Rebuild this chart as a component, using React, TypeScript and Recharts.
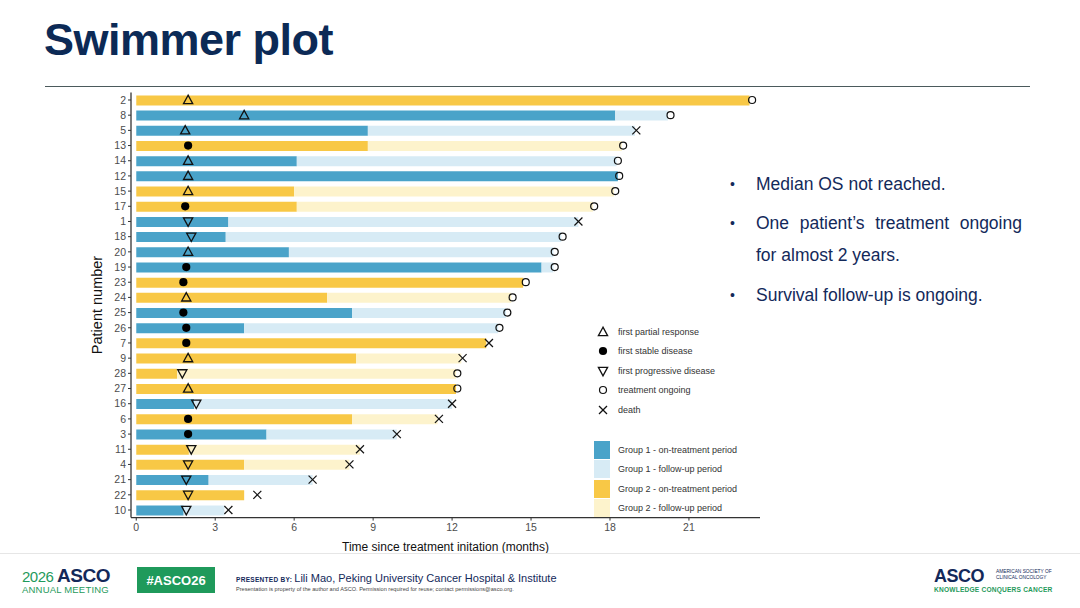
import React from 'react'
import {
  ComposedChart,
  Bar,
  Scatter,
  Cell,
  XAxis,
  YAxis,
  Label,
} from 'recharts'

// patients from top to bottom
const PATIENTS = ['2', '8', '5', '13', '14', '12', '15', '17', '1', '18', '20', '19', '23', '24', '25', '26', '7', '9', '28', '27', '16', '6', '3', '11', '4', '21', '22', '10']
const GROUP = [2, 1, 1, 2, 1, 1, 2, 2, 1, 1, 1, 1, 2, 2, 1, 1, 2, 2, 2, 2, 1, 2, 1, 2, 2, 1, 2, 1]
// end of on-treatment period (months)
const ON_TX = [23.3, 18.2, 8.8, 8.8, 6.1, 18.3, 6.0, 6.1, 3.5, 3.4, 5.8, 15.4, 14.7, 7.25, 8.2, 4.1, 13.3, 8.35, 1.55, 12.15, 2.2, 8.2, 4.95, 2.0, 4.1, 2.75, 4.1, 1.8]
// end of follow-up period (months)
const FU_END = [23.3, 20.2, 18.95, 18.45, 18.25, 18.3, 18.15, 17.35, 16.8, 16.15, 15.85, 15.85, 14.7, 14.25, 14.05, 13.75, 13.3, 12.35, 12.15, 12.15, 12.0, 11.45, 9.9, 8.5, 8.1, 6.7, 4.1, 3.35]
// time of the end marker (ongoing / death)
const END_TIME = [23.4, 20.3, 19.0, 18.5, 18.3, 18.35, 18.2, 17.4, 16.8, 16.2, 15.9, 15.9, 14.8, 14.3, 14.1, 13.8, 13.4, 12.4, 12.2, 12.2, 12.0, 11.5, 9.9, 8.5, 8.1, 6.7, 4.6, 3.5]
const END_TYPE = ['ON', 'ON', 'X', 'ON', 'ON', 'ON', 'ON', 'ON', 'X', 'ON', 'ON', 'ON', 'ON', 'ON', 'ON', 'ON', 'X', 'X', 'ON', 'ON', 'X', 'X', 'X', 'X', 'X', 'X', 'X', 'X']
// first response assessment
const RESP_TIME = [1.97, 4.1, 1.86, 1.97, 1.97, 1.97, 1.97, 1.86, 1.97, 2.09, 1.97, 1.9, 1.79, 1.9, 1.79, 1.9, 1.9, 1.97, 1.75, 1.97, 2.28, 1.97, 1.97, 2.09, 1.97, 1.9, 1.97, 1.9]
const RESP_TYPE = ['PR', 'PR', 'PR', 'SD', 'PR', 'PR', 'PR', 'SD', 'PD', 'PD', 'PR', 'SD', 'SD', 'PR', 'SD', 'SD', 'SD', 'PR', 'PD', 'PR', 'PD', 'SD', 'SD', 'PD', 'PD', 'PD', 'PD', 'PD']

const X_TICKS = [0, 3, 6, 9, 12, 15, 18, 21]

const COLORS = {
  g1On: '#4aa3c9',
  g1Fu: '#d7ebf5',
  g2On: '#f8c846',
  g2Fu: '#fdf3cc',
}

const MARKER_LEGEND = [
  { type: 'PR', label: 'first partial response' },
  { type: 'SD', label: 'first stable disease' },
  { type: 'PD', label: 'first progressive disease' },
  { type: 'ON', label: 'treatment ongoing' },
  { type: 'X', label: 'death' },
]

const BAR_LEGEND = [
  { color: COLORS.g1On, label: 'Group 1 - on-treatment period' },
  { color: COLORS.g1Fu, label: 'Group 1 - follow-up period' },
  { color: COLORS.g2On, label: 'Group 2 - on-treatment period' },
  { color: COLORS.g2Fu, label: 'Group 2 - follow-up period' },
]

const rows = PATIENTS.map((p, i) => ({
  patient: p,
  group: GROUP[i],
  onTx: ON_TX[i],
  fu: Math.max(0, FU_END[i] - ON_TX[i]),
  endTime: END_TIME[i],
  endType: END_TYPE[i],
  resp: RESP_TIME[i],
  respType: RESP_TYPE[i],
}))

const FONT = '"Liberation Sans", Arial, Helvetica, sans-serif'
const NAVY = '#13295a'

function Marker({ type, cx, cy }: { type: string; cx: number; cy: number }) {
  const s = '#111'
  if (type === 'PR')
    return <polygon points={`${cx},${cy - 4.8} ${cx - 4.6},${cy + 3.6} ${cx + 4.6},${cy + 3.6}`} fill="none" stroke={s} strokeWidth={1.3} />
  if (type === 'PD')
    return <polygon points={`${cx - 4.6},${cy - 3.6} ${cx + 4.6},${cy - 3.6} ${cx},${cy + 4.8}`} fill="none" stroke={s} strokeWidth={1.3} />
  if (type === 'SD') return <circle cx={cx} cy={cy} r={4.1} fill="#000" />
  if (type === 'ON') return <circle cx={cx} cy={cy} r={3.5} fill="none" stroke={s} strokeWidth={1.2} />
  return (
    <g stroke={s} strokeWidth={1.2}>
      <line x1={cx - 4} y1={cy - 4} x2={cx + 4} y2={cy + 4} />
      <line x1={cx - 4} y1={cy + 4} x2={cx + 4} y2={cy - 4} />
    </g>
  )
}

function Swimmer() {
  return (
    <ComposedChart
      width={780}
      height={570}
      layout="vertical"
      data={rows}
      margin={{ top: 92.4, right: 20, left: 101, bottom: 22.4 }}
    >
      <XAxis
        type="number"
        domain={[-0.2, 23.7]}
        ticks={X_TICKS}
        allowDataOverflow
        height={30}
        tickSize={3}
        tickMargin={3}
        axisLine={{ stroke: '#333', strokeWidth: 1.3 }}
        tickLine={{ stroke: '#333' }}
        tick={{ fill: '#4d4d4d', fontSize: 10.5, fontFamily: FONT }}
      >
        <Label
          value="Time since treatment initation (months)"
          position="bottom"
          offset={-5}
          style={{ fill: '#111', fontSize: 12, fontFamily: FONT }}
        />
      </XAxis>
      <YAxis
        type="category"
        dataKey="patient"
        width={30}
        tickSize={3}
        tickMargin={2}
        interval={0}
        axisLine={{ stroke: '#333', strokeWidth: 1.3 }}
        tickLine={{ stroke: '#333' }}
        tick={{ fill: '#4d4d4d', fontSize: 10.5, fontFamily: FONT }}
      >
        <Label
          value="Patient number"
          angle={-90}
          position="insideLeft"
          offset={-4}
          style={{ textAnchor: 'middle', fill: '#111', fontSize: 14.5, fontFamily: FONT }}
        />
      </YAxis>
      <Bar dataKey="onTx" stackId="s" barSize={10} isAnimationActive={false}>
        {rows.map((r) => (
          <Cell key={r.patient} fill={r.group === 1 ? COLORS.g1On : COLORS.g2On} />
        ))}
      </Bar>
      <Bar dataKey="fu" stackId="s" barSize={10} isAnimationActive={false}>
        {rows.map((r) => (
          <Cell key={r.patient} fill={r.group === 1 ? COLORS.g1Fu : COLORS.g2Fu} />
        ))}
      </Bar>
      <Scatter
        dataKey="endTime"
        isAnimationActive={false}
        shape={(p: any) => <Marker type={p.payload.endType} cx={p.cx} cy={p.cy} />}
      />
      <Scatter
        dataKey="resp"
        isAnimationActive={false}
        shape={(p: any) => <Marker type={p.payload.respType} cx={p.cx} cy={p.cy} />}
      />
    </ComposedChart>
  )
}

function Legends() {
  return (
    <>
      {MARKER_LEGEND.map((m, i) => (
        <div key={m.type} style={{ position: 'absolute', left: 595, top: 324 + i * 19.4, height: 16, display: 'flex', alignItems: 'center' }}>
          <svg width={16} height={16}>
            <Marker type={m.type} cx={8} cy={8} />
          </svg>
          <span style={{ marginLeft: 7, fontSize: 9, color: '#333', fontFamily: FONT }}>{m.label}</span>
        </div>
      ))}
      {BAR_LEGEND.map((b, i) => (
        <div key={b.label} style={{ position: 'absolute', left: 594, top: 441 + i * 19.4, height: 18, display: 'flex', alignItems: 'center' }}>
          <div style={{ width: 16, height: 18, background: b.color }} />
          <span style={{ marginLeft: 8, fontSize: 9, color: '#333', fontFamily: FONT }}>{b.label}</span>
        </div>
      ))}
    </>
  )
}

function Bullets() {
  const line = { position: 'absolute' as const, left: 756, fontSize: 17.5, color: NAVY, fontFamily: FONT, lineHeight: '20px' }
  const dot = { position: 'absolute' as const, left: 730, fontSize: 14, color: NAVY, fontFamily: FONT, lineHeight: '20px' }
  return (
    <>
      <div style={{ ...dot, top: 174 }}>•</div>
      <div style={{ ...line, top: 174 }}>Median OS not reached.</div>
      <div style={{ ...dot, top: 213 }}>•</div>
      <div style={{ ...line, top: 213, width: 266, display: 'flex', justifyContent: 'space-between' }}>
        <span>One</span>
        <span>patient’s</span>
        <span>treatment</span>
        <span>ongoing</span>
      </div>
      <div style={{ ...line, top: 245 }}>for almost 2 years.</div>
      <div style={{ ...dot, top: 285 }}>•</div>
      <div style={{ ...line, top: 285 }}>Survival follow-up is ongoing.</div>
    </>
  )
}

function Footer() {
  const green = '#1f9a5b'
  return (
    <>
      <div style={{ position: 'absolute', left: 0, top: 553, width: 1080, height: 1, background: '#e6e6e6' }} />
      <div style={{ position: 'absolute', left: 22, top: 566, fontFamily: FONT, lineHeight: 1 }}>
        <span style={{ fontSize: 15, color: green, letterSpacing: -0.5 }}>2026 </span>
        <span style={{ fontSize: 19, color: NAVY, fontWeight: 700, letterSpacing: -0.5 }}>ASCO</span>
      </div>
      <div style={{ position: 'absolute', left: 22, top: 584, fontSize: 9.5, color: green, fontFamily: FONT, letterSpacing: 0.2 }}>ANNUAL MEETING</div>
      <div style={{ position: 'absolute', left: 137, top: 567, width: 78, height: 26, background: green, color: '#fff', fontFamily: FONT, fontWeight: 700, fontSize: 13, display: 'flex', alignItems: 'center', justifyContent: 'center' }}>#ASCO26</div>
      <div style={{ position: 'absolute', left: 236, top: 568, fontFamily: FONT, color: NAVY, whiteSpace: 'nowrap' }}>
        <span style={{ fontSize: 6.5, fontWeight: 700, letterSpacing: 0.3 }}>PRESENTED BY: </span>
        <span style={{ fontSize: 11 }}>Lili Mao, Peking University Cancer Hospital &amp; Institute</span>
      </div>
      <div style={{ position: 'absolute', left: 236, top: 586, fontFamily: FONT, color: '#444', fontSize: 5.6, whiteSpace: 'nowrap' }}>
        Presentation is property of the author and ASCO. Permission required for reuse; contact permissions@asco.org.
      </div>
      <div style={{ position: 'absolute', left: 934, top: 567, fontFamily: FONT, fontSize: 18, fontWeight: 700, color: NAVY, letterSpacing: -0.5, lineHeight: 1 }}>ASCO</div>
      <div style={{ position: 'absolute', left: 996, top: 569, fontFamily: FONT, fontSize: 4.8, color: NAVY, lineHeight: '6px' }}>
        AMERICAN SOCIETY OF<br />CLINICAL ONCOLOGY
      </div>
      <div style={{ position: 'absolute', left: 934, top: 586, fontFamily: FONT, fontSize: 6.6, fontWeight: 700, color: green, whiteSpace: 'nowrap', letterSpacing: 0.2 }}>KNOWLEDGE CONQUERS CANCER</div>
    </>
  )
}

export default function App() {
  return (
    <div style={{ position: 'absolute', left: 0, top: 0, width: 1080, height: 608, background: '#fff', overflow: 'hidden' }}>
      <div style={{ position: 'absolute', left: 44, top: 14, fontFamily: FONT, fontWeight: 700, fontSize: 45, color: '#0c2a56', letterSpacing: -0.5 }}>
        Swimmer plot
      </div>
      <div style={{ position: 'absolute', left: 45, top: 86, width: 985, height: 1, background: '#4b5a5c' }} />
      <div style={{ position: 'absolute', left: 0, top: 0 }}>
        <Swimmer />
      </div>
      <Legends />
      <Bullets />
      <Footer />
    </div>
  )
}
